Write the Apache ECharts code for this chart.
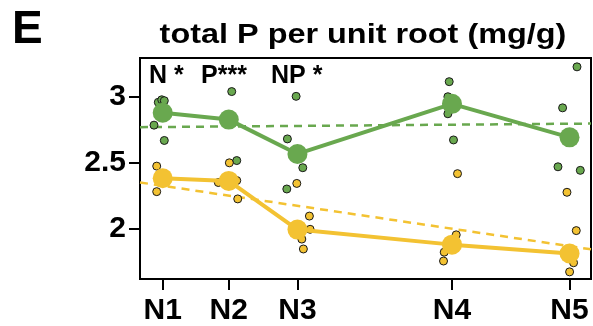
<!DOCTYPE html>
<html>
<head>
<meta charset="utf-8">
<script src="https://cdn.jsdelivr.net/npm/echarts@6/dist/echarts.min.js"></script>
<style>
  html, body { margin: 0; padding: 0; background: #fff; }
  #chart { width: 593px; height: 326px; }
</style>
</head>
<body>
<div id="chart"></div>
<script>
// N treatment levels and where each sits on the N axis
const nLabels = ['N1', 'N2', 'N3', 'N4', 'N5'];
const nLevels = [0, 1, 2.04, 4.38, 6.16];

// Replicate measurements: [jittered N position, total P (mg/g)]
const greenObs = [
  [-0.067, 2.958], [-0.015, 2.977], [0.024, 2.970], [-0.132, 2.785], [0.024, 2.669],
  [1.045, 3.039], [1.121, 2.517],
  [2.020, 3.003], [1.888, 2.681], [2.121, 2.463], [1.879, 2.302],
  [4.338, 3.114], [4.318, 3.000], [4.318, 2.871], [4.403, 2.673],
  [6.273, 3.226], [6.055, 2.916], [5.985, 2.470], [6.323, 2.443]
];
const yellowObs = [
  [-0.091, 2.475], [-0.091, 2.282],
  [1.009, 2.500], [1.136, 2.227], [0.842, 2.351], [1.121, 2.366],
  [2.030, 2.344], [2.221, 2.097], [2.232, 1.997], [2.106, 1.923], [2.130, 1.848],
  [4.464, 2.418], [4.444, 1.955], [4.262, 1.824], [4.252, 1.757],
  [6.121, 2.277], [6.262, 1.987], [6.221, 1.744], [6.161, 1.675]
];

// Treatment means
const greenMeans = [2.879, 2.827, 2.567, 2.946, 2.693];
const yellowMeans = [2.383, 2.363, 1.995, 1.881, 1.814];

// Linear trend fits: [intercept, slope] per group
const greenTrend = [2.771, 0.0040];
const yellowTrend = [2.326, -0.0741];

// Axis extents and y ticks
const xRange = [-0.344, 6.485];
const yRange = [1.621, 3.293];
const yTicks = [2, 2.5, 3];

const GREEN = '#69a84f';
const YELLOW = '#f3c232';
const FONT = '"Liberation Sans", Arial, Helvetica, sans-serif';

function trendLine(coef) {
  return xRange.map(x => [x, coef[0] + coef[1] * x]);
}
function meanLine(means) {
  return means.map((v, i) => [nLevels[i], v]);
}

const chart = echarts.init(document.getElementById('chart'), null, { renderer: 'canvas' });

const obsStyle = (c) => ({ color: c, borderColor: '#1a1a1a', borderWidth: 1, opacity: 1 });

chart.setOption({
  animation: false,
  backgroundColor: '#fff',
  graphic: [
    { type: 'text', left: 12, top: 7, style: { text: 'E', font: 'bold 46px ' + FONT, fill: '#000' } },
    {
      type: 'text', x: 363, y: 36, scaleX: 1.2,
      style: {
        text: 'total P per unit root (mg/g)', font: 'bold 27px ' + FONT, fill: '#000',
        textAlign: 'center', textVerticalAlign: 'middle'
      }
    },
    { type: 'text', left: 149, top: 64, style: { text: 'N *', font: 'bold 25px ' + FONT, fill: '#000' } },
    { type: 'text', left: 201, top: 64, style: { text: 'P***', font: 'bold 25px ' + FONT, fill: '#000' } },
    { type: 'text', left: 271, top: 64, style: { text: 'NP *', font: 'bold 25px ' + FONT, fill: '#000' } }
  ],
  grid: {
    left: 140, right: 2, top: 58, bottom: 43,
    show: true, borderColor: '#000', borderWidth: 2, backgroundColor: 'transparent'
  },
  xAxis: {
    type: 'value', min: xRange[0], max: xRange[1],
    splitLine: { show: false },
    axisLine: { show: true, onZero: false, lineStyle: { color: '#000', width: 2 } },
    axisTick: { show: true, customValues: nLevels, length: 11, lineStyle: { color: '#000', width: 2 } },
    axisLabel: {
      customValues: nLevels, margin: 17,
      formatter: (v) => nLabels[nLevels.indexOf(v)] || '',
      fontFamily: FONT, fontWeight: 'bold', fontSize: 30, color: '#000'
    }
  },
  yAxis: {
    type: 'value', min: yRange[0], max: yRange[1],
    splitLine: { show: false },
    axisLine: { show: true, onZero: false, lineStyle: { color: '#000', width: 2 } },
    axisTick: { show: true, customValues: yTicks, length: 11, lineStyle: { color: '#000', width: 2 } },
    axisLabel: {
      customValues: yTicks, margin: 14,
      formatter: (v) => String(v),
      fontFamily: FONT, fontWeight: 'bold', fontSize: 30, color: '#000'
    }
  },
  series: [
    {
      type: 'line', data: trendLine(greenTrend), showSymbol: false, silent: true,
      lineStyle: { color: GREEN, width: 2.5, type: [8, 6] }, z: 2
    },
    {
      type: 'line', data: trendLine(yellowTrend), showSymbol: false, silent: true,
      lineStyle: { color: YELLOW, width: 2.5, type: [8, 6] }, z: 2
    },
    { type: 'scatter', data: greenObs, symbolSize: 8, itemStyle: obsStyle(GREEN), z: 3 },
    { type: 'scatter', data: yellowObs, symbolSize: 8, itemStyle: obsStyle(YELLOW), z: 3 },
    {
      type: 'line', data: meanLine(greenMeans), symbol: 'circle', symbolSize: 20,
      lineStyle: { color: GREEN, width: 4 }, itemStyle: { color: GREEN }, z: 4
    },
    {
      type: 'line', data: meanLine(yellowMeans), symbol: 'circle', symbolSize: 20,
      lineStyle: { color: YELLOW, width: 4 }, itemStyle: { color: YELLOW }, z: 4
    }
  ]
});
</script>
</body>
</html>
